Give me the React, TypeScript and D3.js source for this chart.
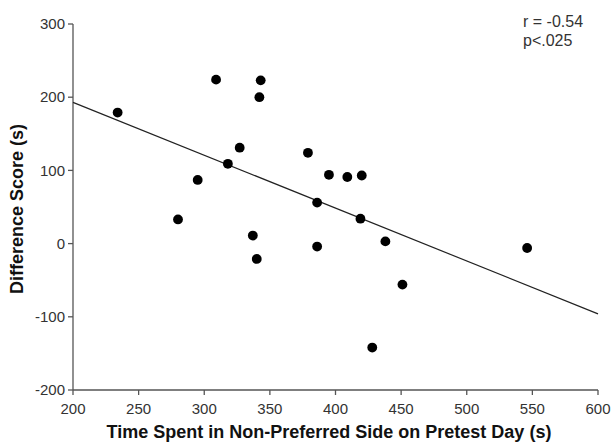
import React from "react";
import * as d3 from "d3";

// data
const timeSpent = [234, 309, 295, 280, 343, 342, 327, 318, 379, 395, 409, 420, 386, 419, 386, 438, 546, 451, 428, 337, 340];
const diffScore = [179, 224, 87, 33, 223, 200, 131, 109, 124, 94, 91, 93, 56, 34, -4, 3, -6, -56, -142, 11, -21];
const fitLine = [
  [200, 193],
  [600, -96],
];
const xTicks = [200, 250, 300, 350, 400, 450, 500, 550, 600];
const yTicks = [-200, -100, 0, 100, 200, 300];
const statsText = ["r = -0.54", "p<.025"];

const W = 612;
const H = 446;
const margin = { top: 24, right: 14, bottom: 56, left: 73 };

export default function App() {
  const x = d3.scaleLinear().domain([200, 600]).range([margin.left, W - margin.right]);
  const y = d3.scaleLinear().domain([-200, 300]).range([H - margin.bottom, margin.top]);
  const axisColor = "#555";
  const font = "'Liberation Sans', Arial, Helvetica, sans-serif";
  const line = d3.line<number[]>().x((d) => x(d[0])).y((d) => y(d[1]));
  const x0 = x(200);
  const y0 = y(-200);

  return (
    <svg width={W} height={H} style={{ position: "absolute", left: 0, top: 0 }} fontFamily={font}>
      {/* axes */}
      <line x1={x0} x2={x0} y1={y(300)} y2={y0} stroke={axisColor} strokeWidth={1.3} />
      <line x1={x0} x2={x(600)} y1={y0} y2={y0} stroke={axisColor} strokeWidth={1.3} />
      {yTicks.map((t) => (
        <g key={"y" + t}>
          <line x1={x0 - 5} x2={x0} y1={y(t)} y2={y(t)} stroke={axisColor} strokeWidth={1.3} />
          <text x={x0 - 8} y={y(t)} dy="0.35em" textAnchor="end" fontSize={15} fill="#333">
            {t}
          </text>
        </g>
      ))}
      {xTicks.map((t) => (
        <g key={"x" + t}>
          <line x1={x(t)} x2={x(t)} y1={y0} y2={y0 + 5} stroke={axisColor} strokeWidth={1.3} />
          <text x={x(t)} y={y0 + 19} dy="0.35em" textAnchor="middle" fontSize={15} fill="#333">
            {t}
          </text>
        </g>
      ))}
      {/* axis titles */}
      <text x={329} y={432} dy="0.35em" textAnchor="middle" fontSize={18} fontWeight="bold" fill="#111">
        Time Spent in Non-Preferred Side on Pretest Day (s)
      </text>
      <text
        transform={`translate(17,209) rotate(-90)`}
        textAnchor="middle"
        dy="0.35em"
        fontSize={18}
        fontWeight="bold"
        fill="#111"
      >
        Difference Score (s)
      </text>
      {/* regression line */}
      <path d={line(fitLine) || ""} fill="none" stroke="#222" strokeWidth={1.2} />
      {/* points */}
      {timeSpent.map((t, i) => (
        <circle key={i} cx={x(t)} cy={y(diffScore[i])} r={4.9} fill="#000" />
      ))}
      {/* stats */}
      {statsText.map((s, i) => (
        <text key={s} x={523} y={21 + i * 19} dy="0.35em" fontSize={16} fill="#333">
          {s}
        </text>
      ))}
    </svg>
  );
}
